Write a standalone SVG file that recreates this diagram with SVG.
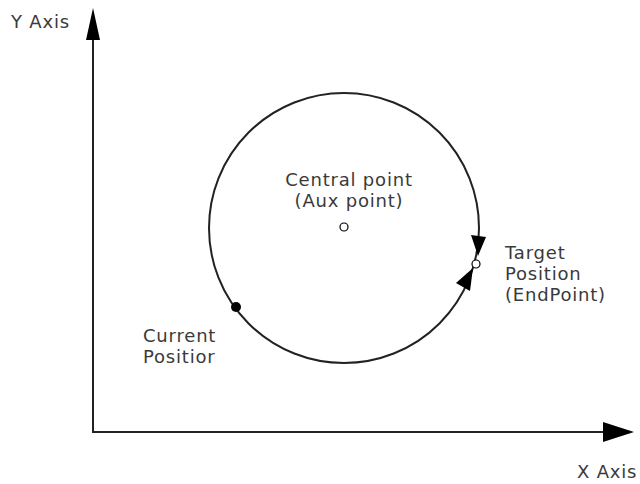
<svg xmlns="http://www.w3.org/2000/svg" width="640" height="484" viewBox="0 0 640 484">
<style>
text{font-family:"DejaVu Sans","Liberation Sans",Arial,sans-serif;font-size:18px;letter-spacing:0.8px;fill:#3a3a3a}
.ln{stroke:#222;stroke-width:2;fill:none}
.ah{fill:#000}
</style>
<rect width="640" height="484" fill="#fff"/>
<g id="axes">
<path class="ln" d="M93 38 V432 H605" stroke="#555" stroke-width="2.5"/>
<polygon class="ah" points="93,8 86,40 100,40"/>
<polygon class="ah" points="634,432 603,422 603,442"/>
</g>
<g id="connectors">
<circle class="ln" cx="344" cy="228" r="135" stroke-width="1.8"/>
<polygon class="ah" points="478,256 471,235 486,237"/>
<polygon class="ah" points="473,268 470,291 456,283"/>
</g>
<g id="center"><circle cx="344" cy="227" r="4" fill="#fff" stroke="#000" stroke-width="1.2"/></g>
<g id="target"><circle cx="476" cy="264" r="4" fill="#fff" stroke="#000" stroke-width="1.2"/></g>
<g id="current"><circle cx="236" cy="307" r="5" fill="#000"/></g>
<g id="labels">
<text x="11" y="28">Y Axis</text>
<text x="577" y="478">X Axis</text>
<text x="349" y="186" text-anchor="middle">Central point</text>
<text x="349" y="207" text-anchor="middle">(Aux point)</text>
<text x="505" y="259">Target</text>
<text x="505" y="280">Position</text>
<text x="505" y="301">(EndPoint)</text>
<text x="143" y="342">Current</text>
<text x="143" y="363">Positior</text>
</g>
</svg>
